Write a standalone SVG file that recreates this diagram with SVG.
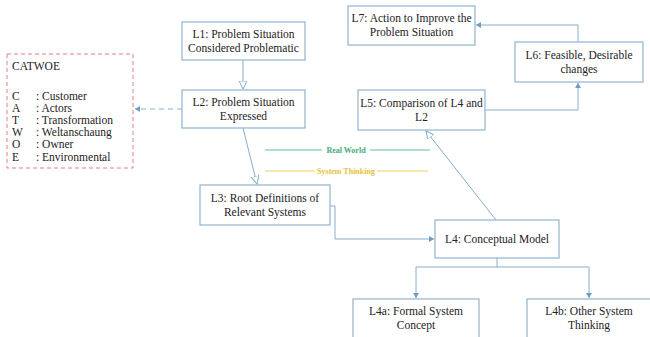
<svg xmlns="http://www.w3.org/2000/svg" width="650" height="337" viewBox="0 0 650 337" font-family="Liberation Serif, serif">
<style>
.box{fill:#fff;stroke:#8fb4d0;stroke-width:1.2}
.t{font-size:11.5px;fill:#222;text-anchor:middle}
.c{font-size:11.5px;fill:#222}
.ln{fill:none;stroke:#86aecb;stroke-width:1}
</style>
<defs>
<marker id="hollow" markerWidth="10" markerHeight="10" refX="8" refY="4" orient="auto" markerUnits="userSpaceOnUse">
<path d="M0,0 L8,4 L0,8 Z" fill="#fff" stroke="#86aecb" stroke-width="1"/>
</marker>
<marker id="fill" markerWidth="8" markerHeight="8" refX="5" refY="3" orient="auto" markerUnits="userSpaceOnUse">
<path d="M0,0 L5,3 L0,6 Z" fill="#6f9cc2"/>
</marker>
</defs>
<rect width="650" height="337" fill="#fff"/>
<g id="connectors">
<line class="ln" x1="243" y1="60" x2="243" y2="89" marker-end="url(#hollow)"/>
<line class="ln" x1="182" y1="109" x2="135" y2="109" stroke-dasharray="5,4" marker-end="url(#fill)"/>
<line class="ln" x1="243" y1="128" x2="257" y2="184" marker-end="url(#hollow)"/>
<polyline class="ln" points="330,206 335,206 335,239 434,239" marker-end="url(#fill)"/>
<line class="ln" x1="496" y1="220" x2="426" y2="131" marker-end="url(#hollow)"/>
<polyline class="ln" points="485,110 578,110 578,83" marker-end="url(#fill)"/>
<polyline class="ln" points="578,42 578,25 476,25" marker-end="url(#fill)"/>
<polyline class="ln" points="497,258 497,267 416,267 416,298" marker-end="url(#fill)"/>
<polyline class="ln" points="497,267 589,267 589,298" marker-end="url(#fill)"/>
<line x1="265" y1="150" x2="430" y2="150" stroke="#5fbf9a" stroke-width="1"/>
<line x1="265" y1="171" x2="428" y2="171" stroke="#f0d060" stroke-width="1"/>
</g>
<g id="realworld">
<rect x="322" y="145" width="48" height="10" fill="#fff"/>
<text x="346" y="153" font-size="8px" font-weight="bold" fill="#3fa97a" text-anchor="middle">Real World</text>
</g>
<g id="systemthinking">
<rect x="315" y="166" width="62" height="10" fill="#fff"/>
<text x="346" y="174" font-size="8px" font-weight="bold" fill="#e6c23a" text-anchor="middle">System Thinking</text>
</g>
<g id="catwoe">
<rect x="7" y="54" width="126" height="114" fill="#fff" stroke="#e0808f" stroke-width="1" stroke-dasharray="4,3"/>
<text class="c" x="12" y="70">CATWOE</text>
<text class="c" x="12" y="100">C</text><text class="c" x="36" y="100">: Customer</text>
<text class="c" x="12" y="112">A</text><text class="c" x="36" y="112">: Actors</text>
<text class="c" x="12" y="124">T</text><text class="c" x="36" y="124">: Transformation</text>
<text class="c" x="12" y="136">W</text><text class="c" x="36" y="136">: Weltanschaung</text>
<text class="c" x="12" y="148">O</text><text class="c" x="36" y="148">: Owner</text>
<text class="c" x="12" y="161">E</text><text class="c" x="36" y="161">: Environmental</text>
</g>
<g id="L1"><rect class="box" x="182" y="22" width="123" height="38"/>
<text class="t" x="243.5" y="38">L1: Problem Situation</text><text class="t" x="243.5" y="52">Considered Problematic</text></g>
<g id="L2"><rect class="box" x="182" y="90" width="123" height="38"/>
<text class="t" x="243.5" y="106">L2: Problem Situation</text><text class="t" x="243.5" y="120">Expressed</text></g>
<g id="L3"><rect class="box" x="200" y="185" width="130" height="40"/>
<text class="t" x="265" y="202">L3: Root Definitions of</text><text class="t" x="265" y="216">Relevant Systems</text></g>
<g id="L4"><rect class="box" x="435" y="220" width="124" height="38"/>
<text class="t" x="497" y="243">L4: Conceptual Model</text></g>
<g id="L4a"><rect class="box" x="353" y="299" width="126" height="45"/>
<text class="t" x="416" y="315">L4a: Formal System</text><text class="t" x="416" y="329">Concept</text></g>
<g id="L4b"><rect class="box" x="527" y="299" width="125" height="45"/>
<text class="t" x="589" y="315">L4b: Other System</text><text class="t" x="589" y="329">Thinking</text></g>
<g id="L5"><rect class="box" x="358" y="90" width="127" height="40"/>
<text class="t" x="421.5" y="107">L5: Comparison of L4 and</text><text class="t" x="421.5" y="121">L2</text></g>
<g id="L6"><rect class="box" x="515" y="42" width="128" height="40"/>
<text class="t" x="579" y="59">L6: Feasible, Desirable</text><text class="t" x="579" y="73">changes</text></g>
<g id="L7"><rect class="box" x="348" y="6" width="127" height="39"/>
<text class="t" x="411.5" y="22">L7: Action to Improve the</text><text class="t" x="411.5" y="36">Problem Situation</text></g>
</svg>
